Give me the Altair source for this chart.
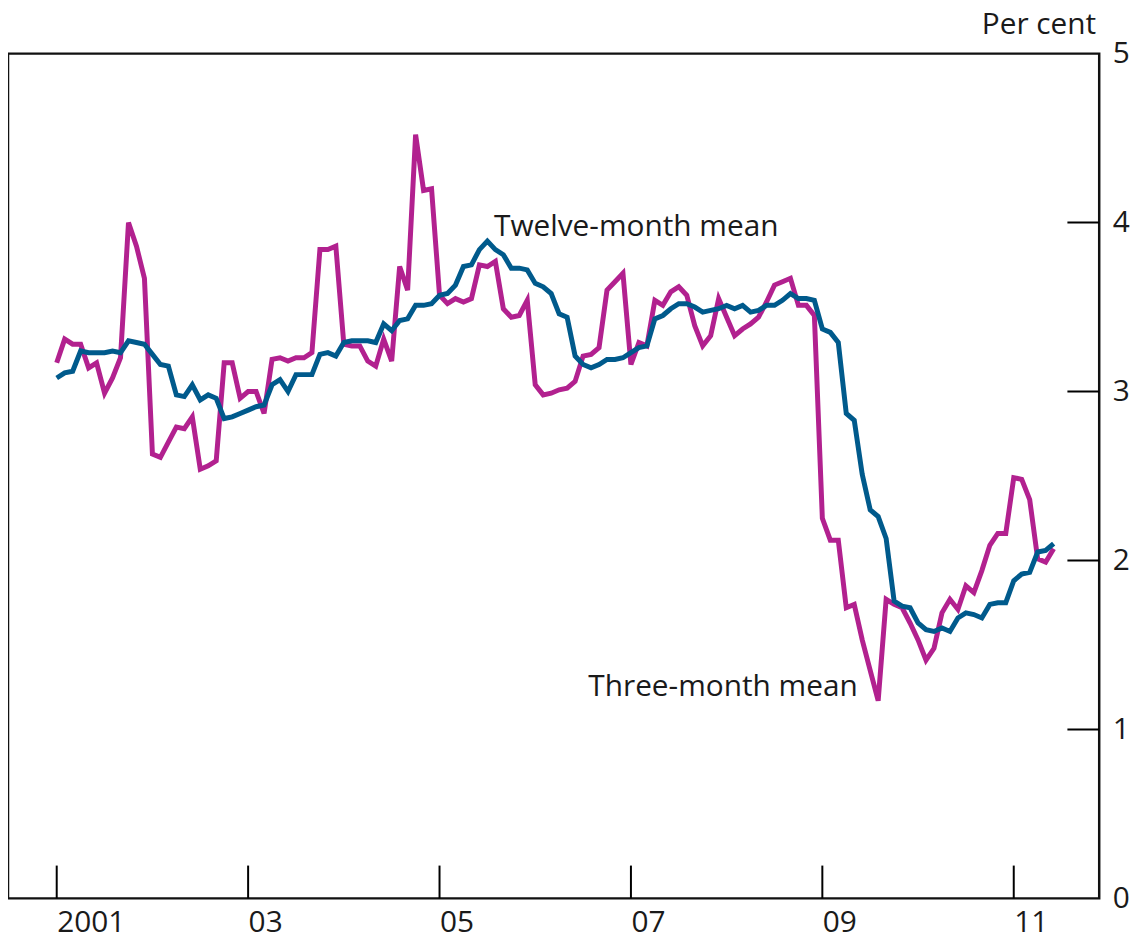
import altair as alt
import pandas as pd

# Monthly data, January 2001 onwards (per cent)
start_year = 2001
three_month_mean = [
    3.17, 3.31, 3.28, 3.28, 3.14, 3.17, 2.99, 3.08, 3.20, 4.00, 3.86, 3.67,
    2.63, 2.61, 2.70, 2.79, 2.78, 2.85, 2.54, 2.56, 2.59, 3.17, 3.17, 2.96,
    3.00, 3.00, 2.87, 3.19, 3.20, 3.18, 3.20, 3.20, 3.23, 3.84, 3.84, 3.86,
    3.28, 3.27, 3.27, 3.18, 3.15, 3.31, 3.18, 3.74, 3.60, 4.52, 4.19, 4.20,
    3.57, 3.52, 3.55, 3.53, 3.55, 3.75, 3.74, 3.77, 3.49, 3.44, 3.45, 3.54,
    3.04, 2.98, 2.99, 3.01, 3.02, 3.06, 3.21, 3.22, 3.26, 3.60, 3.65, 3.70,
    3.16, 3.29, 3.27, 3.54, 3.51, 3.59, 3.62, 3.57, 3.39, 3.27, 3.33, 3.55,
    3.44, 3.33, 3.37, 3.40, 3.44, 3.53, 3.63, 3.65, 3.67, 3.51, 3.51, 3.45,
    2.25, 2.12, 2.12, 1.72, 1.74, 1.53, 1.35, 1.17, 1.77, 1.74, 1.72, 1.63,
    1.53, 1.41, 1.48, 1.69, 1.77, 1.71, 1.85, 1.81, 1.94, 2.09, 2.16, 2.16,
    2.49, 2.48, 2.36, 2.01, 1.99, 2.07,
]
twelve_month_mean = [
    3.08, 3.11, 3.12, 3.24, 3.23, 3.23, 3.23, 3.24, 3.23, 3.30, 3.29, 3.28,
    3.22, 3.16, 3.15, 2.98, 2.97, 3.04, 2.95, 2.98, 2.96, 2.84, 2.85, 2.87,
    2.89, 2.91, 2.92, 3.04, 3.07, 3.00, 3.10, 3.10, 3.10, 3.22, 3.23, 3.21,
    3.29, 3.30, 3.30, 3.30, 3.29, 3.40, 3.36, 3.42, 3.43, 3.51, 3.51, 3.52,
    3.57, 3.58, 3.63, 3.74, 3.75, 3.84, 3.89, 3.84, 3.81, 3.73, 3.73, 3.72,
    3.64, 3.62, 3.58, 3.46, 3.44, 3.21, 3.16, 3.14, 3.16, 3.19, 3.19, 3.20,
    3.23, 3.26, 3.27, 3.43, 3.45, 3.49, 3.52, 3.52, 3.50, 3.47, 3.48, 3.49,
    3.51, 3.49, 3.51, 3.47, 3.48, 3.51, 3.51, 3.54, 3.58, 3.55, 3.55, 3.54,
    3.37, 3.35, 3.29, 2.87, 2.83, 2.51, 2.30, 2.26, 2.13, 1.76, 1.73, 1.72,
    1.63, 1.59, 1.58, 1.60, 1.58, 1.66, 1.69, 1.68, 1.66, 1.74, 1.75, 1.75,
    1.88, 1.92, 1.93, 2.05, 2.06, 2.10,
]
x_tick_values = [2001, 2003, 2005, 2007, 2009, 2011]
y_tick_values = [0, 1, 2, 3, 4, 5]
series_labels = ["Twelve-month mean", "Three-month mean"]
colors = {"Three-month mean": "#b2218f", "Twelve-month mean": "#005a8c"}

W, H = 1098, 850
FONT = "Open Sans"
FS = 30
TXT = "#1a1a1a"

t = [start_year + i / 12 for i in range(len(three_month_mean))]
df3 = pd.DataFrame({"t": t, "v": three_month_mean})
df12 = pd.DataFrame({"t": t[:len(twelve_month_mean)], "v": twelve_month_mean})

xscale = alt.Scale(domain=[2000.491, 2011.893], nice=False, zero=False)
yscale = alt.Scale(domain=[0, 5], nice=False, zero=False)

xaxis = alt.Axis(
    values=x_tick_values, ticks=False, domain=False, grid=False,
    labelAlign="left", labelBaseline="top", labelPadding=9,
    labelFont=FONT, labelFontSize=FS, labelColor=TXT, title=None,
    labelExpr="datum.value == 2001 ? '2001' : (datum.value - 2000 < 10 ? '0' + (datum.value - 2000) : '' + (datum.value - 2000))",
)
yaxis = alt.Axis(
    orient="right", values=y_tick_values, ticks=False, domain=False, grid=False,
    labelAlign="left", labelBaseline="middle", labelPadding=13,
    labelFont=FONT, labelFontSize=FS, labelColor=TXT, title=None,
    format="d",
)

line3 = alt.Chart(df3).mark_line(color=colors["Three-month mean"], strokeWidth=5).encode(
    x=alt.X("t:Q", scale=xscale, axis=xaxis),
    y=alt.Y("v:Q", scale=yscale, axis=yaxis),
)
line12 = alt.Chart(df12).mark_line(color=colors["Twelve-month mean"], strokeWidth=5).encode(
    x=alt.X("t:Q", scale=xscale),
    y=alt.Y("v:Q", scale=yscale),
)

xt = alt.Chart(pd.DataFrame({"xt": x_tick_values})).mark_rule(color="black", strokeWidth=2).encode(
    x=alt.X("xt:Q", scale=xscale), y=alt.value(H), y2=alt.value(H - 33)
)
yt = alt.Chart(pd.DataFrame({"yt": y_tick_values[1:-1]})).mark_rule(color="black", strokeWidth=2).encode(
    y=alt.Y("yt:Q", scale=yscale), x=alt.value(W - 32), x2=alt.value(W)
)

labels = pd.DataFrame({
    "t": [2005.569, 2009.370],
    "v": [3.918, 1.20],
    "label": series_labels,
})
lab_left = alt.Chart(labels.iloc[[0]]).mark_text(
    align="left", baseline="alphabetic", font=FONT, fontSize=FS, color=TXT
).encode(x=alt.X("t:Q", scale=xscale), y=alt.Y("v:Q", scale=yscale), text="label:N")
lab_right = alt.Chart(labels.iloc[[1]]).mark_text(
    align="right", baseline="alphabetic", font=FONT, fontSize=FS, color=TXT
).encode(x=alt.X("t:Q", scale=xscale), y=alt.Y("v:Q", scale=yscale), text="label:N")

unit = alt.Chart(pd.DataFrame({"u": ["Per cent"]})).mark_text(
    align="right", baseline="alphabetic", font=FONT, fontSize=FS, color=TXT
).encode(x=alt.value(W - 3), y=alt.value(-20), text="u:N")

chart = alt.layer(xt, yt, line3, line12, lab_left, lab_right, unit).properties(
    width=W, height=H,
    background="white",
    autosize=alt.AutoSizeParams(type="none"),
    padding={"left": 0, "top": 43, "right": 34, "bottom": 42},
).configure_view(stroke="#111111", strokeWidth=2.5)

chart.save("out.html", embed_options={"renderer": "svg", "actions": False})
